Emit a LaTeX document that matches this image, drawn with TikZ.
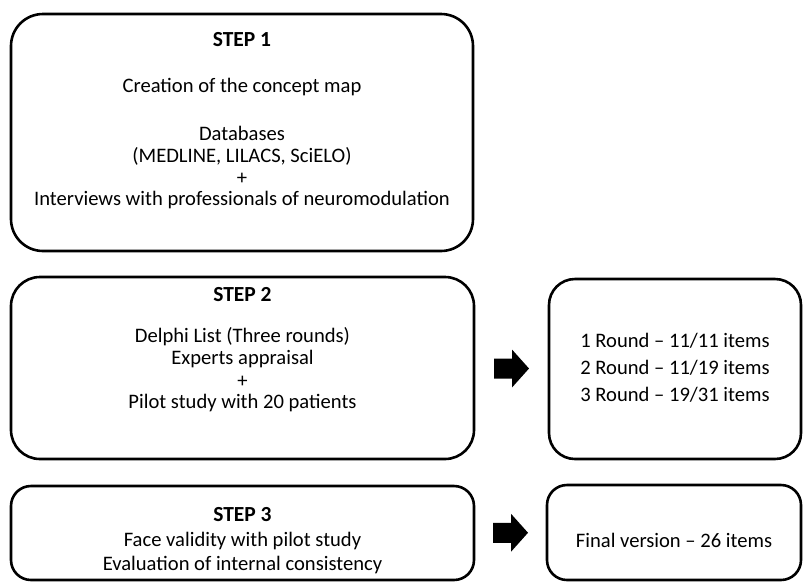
\documentclass[tikz,border=0pt]{standalone}
\usepackage{fontspec}
\setmainfont{Carlito}
\begin{document}
\begin{tikzpicture}[x=1pt,y=-1pt,
  box/.style={draw=black, line width=2.6pt, rounded corners=#1, inner sep=0pt},
  txt/.style={anchor=base, inner sep=0pt, font=\fontsize{20.6}{24}\selectfont},
  hd/.style={anchor=base, inner sep=0pt, font=\fontsize{21.5}{25}\selectfont\bfseries},
  blk/.style={fill=black}]
\useasboundingbox (0,0) rectangle (803,582);
% boxes
\node[box=32pt, minimum width=462pt, minimum height=237pt] (b1) at (242,132.5) {};
\node[box=29pt, minimum width=463pt, minimum height=182pt] (b2) at (242.5,368) {};
\node[box=26pt, minimum width=252pt, minimum height=180pt] (r2) at (675,369) {};
\node[box=20pt, minimum width=463pt, minimum height=94pt] (b3) at (242.5,533) {};
\node[box=20pt, minimum width=254pt, minimum height=95pt] (r3) at (674,532.5) {};
% step 1 texts
\node[hd] (s1) at (242,46) {STEP 1};
\node[txt] (t11) at (242,92) {Creation of the concept map};
\node[txt] (t12) at (242,140) {Databases};
\node[txt] (t13) at (242,162) {(MEDLINE, LILACS, SciELO)};
\node[txt] (t14) at (242,184) {+};
\node[txt] (t15) at (242,205) {Interviews with professionals of neuromodulation};
% step 2 texts
\node[hd] (s2) at (242.5,301) {STEP 2};
\node[txt] (t21) at (242.5,342) {Delphi List (Three rounds)};
\node[txt] (t22) at (242.5,364) {Experts appraisal};
\node[txt] (t23) at (242.5,387) {+};
\node[txt] (t24) at (242.5,408) {Pilot study with 20 patients};
\node[txt] (u21) at (675,347) {1 Round -- 11/11 items};
\node[txt] (u22) at (675,374) {2 Round -- 11/19 items};
\node[txt] (u23) at (675,401) {3 Round -- 19/31 items};
% step 3 texts
\node[hd] (s3) at (242.5,521) {STEP 3};
\node[txt] (t31) at (242.5,546) {Face validity with pilot study};
\node[txt] (t32) at (242.5,570) {Evaluation of internal consistency};
\node[txt] (u31) at (674,547) {Final version -- 26 items};
% block arrows
\path (b2.east) -- (r2.west) coordinate[pos=0.5] (m2);
\path (b3.east) -- (r3.west) coordinate[pos=0.5] (m3);
\fill[blk] ([shift={(-17.5,-10)}]m2) -- ([shift={(0.5,-10)}]m2) -- ([shift={(0.5,-19)}]m2)
  -- ([shift={(17.5,0)}]m2) -- ([shift={(0.5,19)}]m2) -- ([shift={(0.5,10)}]m2)
  -- ([shift={(-17.5,10)}]m2) -- cycle;
\fill[blk] ([shift={(-17.5,-10)}]m3) -- ([shift={(0.5,-10)}]m3) -- ([shift={(0.5,-19)}]m3)
  -- ([shift={(17.5,0)}]m3) -- ([shift={(0.5,19)}]m3) -- ([shift={(0.5,10)}]m3)
  -- ([shift={(-17.5,10)}]m3) -- cycle;
\end{tikzpicture}
\end{document}
